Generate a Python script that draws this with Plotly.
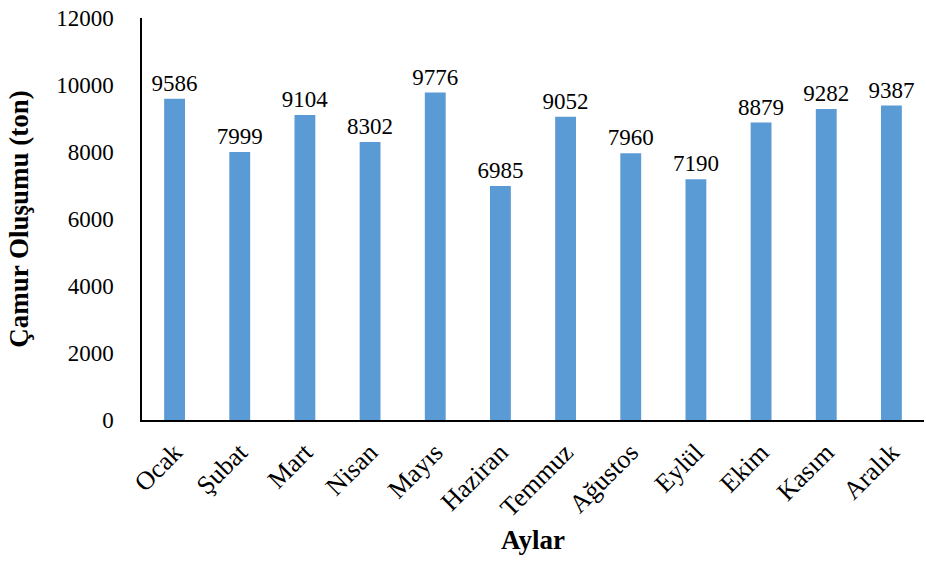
import plotly.graph_objects as go

months = ["Ocak", "Şubat", "Mart", "Nisan", "Mayıs", "Haziran", "Temmuz",
          "Ağustos", "Eylül", "Ekim", "Kasım", "Aralık"]
sludge = [9586, 7999, 9104, 8302, 9776, 6985, 9052, 7960, 7190, 8879, 9282, 9387]
y_ticks = [0, 2000, 4000, 6000, 8000, 10000, 12000]
y_tick_labels = [str(v) for v in y_ticks]

font_family = "Liberation Serif, Times New Roman, serif"
fs = 23

fig = go.Figure(go.Bar(
    x=months, y=sludge,
    marker=dict(color="#5B9BD5", line=dict(width=0)),
    width=0.32,
    text=[str(v) for v in sludge],
    textposition="outside",
    constraintext="none",
    textfont=dict(family=font_family, size=fs, color="black"),
    cliponaxis=False,
))

fig.update_layout(
    width=926, height=563,
    margin=dict(l=142, r=2, t=18, b=143),
    paper_bgcolor="white", plot_bgcolor="white",
    font=dict(family=font_family, size=fs, color="black"),
    showlegend=False,
    xaxis=dict(
        tickangle=-45,
        tickfont=dict(family=font_family, size=26, color="black"),
        showline=True, linecolor="black", linewidth=1.5,
        ticks="", showgrid=False,
        ticklabelstandoff=5,
        title=dict(text="<b>Aylar</b>", font=dict(family=font_family, size=27), standoff=9),
    ),
    yaxis=dict(
        range=[0, 12000], tickvals=y_ticks, ticktext=y_tick_labels,
        tickfont=dict(family=font_family, size=fs, color="black"),
        showline=True, linecolor="black", linewidth=1.5,
        ticks="", showgrid=False, zeroline=False,
        ticklabelstandoff=22,
        title=dict(text="<b>Çamur Oluşumu (ton)</b>", font=dict(family=font_family, size=27), standoff=20),
    ),
)

fig.write_html("out.html")
